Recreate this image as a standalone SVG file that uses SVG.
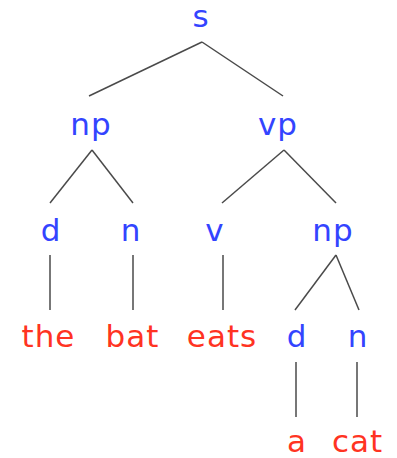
<svg xmlns="http://www.w3.org/2000/svg" width="397" height="458" viewBox="0 0 397 458">
<style>
text{font-family:"DejaVu Sans",Verdana,sans-serif;font-size:31px;text-anchor:middle;letter-spacing:1px}
.c{fill:#3344ff}
.w{fill:#ff3322}
line{stroke:#4a4a4a;stroke-width:1.5}
</style>
<rect width="397" height="458" fill="#fff"/>
<g id="connectors">
<line x1="202" y1="42" x2="89" y2="96"/>
<line x1="202" y1="42" x2="283" y2="96"/>
<line x1="92" y1="150" x2="50" y2="203"/>
<line x1="92" y1="150" x2="133" y2="203"/>
<line x1="284" y1="150" x2="222" y2="203"/>
<line x1="284" y1="150" x2="336" y2="203"/>
<line x1="50" y1="255" x2="50" y2="310"/>
<line x1="133" y1="255" x2="133" y2="310"/>
<line x1="223" y1="255" x2="223" y2="310"/>
<line x1="336" y1="255" x2="295" y2="310"/>
<line x1="336" y1="255" x2="359" y2="310"/>
<line x1="296" y1="362" x2="296" y2="417"/>
<line x1="357" y1="362" x2="357" y2="417"/>
</g>
<g id="s"><text class="c" x="201" y="27">s</text></g>
<g id="np1"><text class="c" x="91" y="135">np</text></g>
<g id="vp"><text class="c" x="278" y="135">vp</text></g>
<g id="d1"><text class="c" x="51" y="241">d</text></g>
<g id="n1"><text class="c" x="131" y="241">n</text></g>
<g id="v"><text class="c" x="215" y="241">v</text></g>
<g id="np2"><text class="c" x="333" y="241">np</text></g>
<g id="the"><text class="w" x="48.5" y="347">the</text></g>
<g id="bat"><text class="w" x="132.5" y="347">bat</text></g>
<g id="eats"><text class="w" x="222" y="347">eats</text></g>
<g id="d2"><text class="c" x="297" y="347">d</text></g>
<g id="n2"><text class="c" x="358" y="347">n</text></g>
<g id="a"><text class="w" x="297" y="452">a</text></g>
<g id="cat"><text class="w" x="357.5" y="452">cat</text></g>
</svg>
